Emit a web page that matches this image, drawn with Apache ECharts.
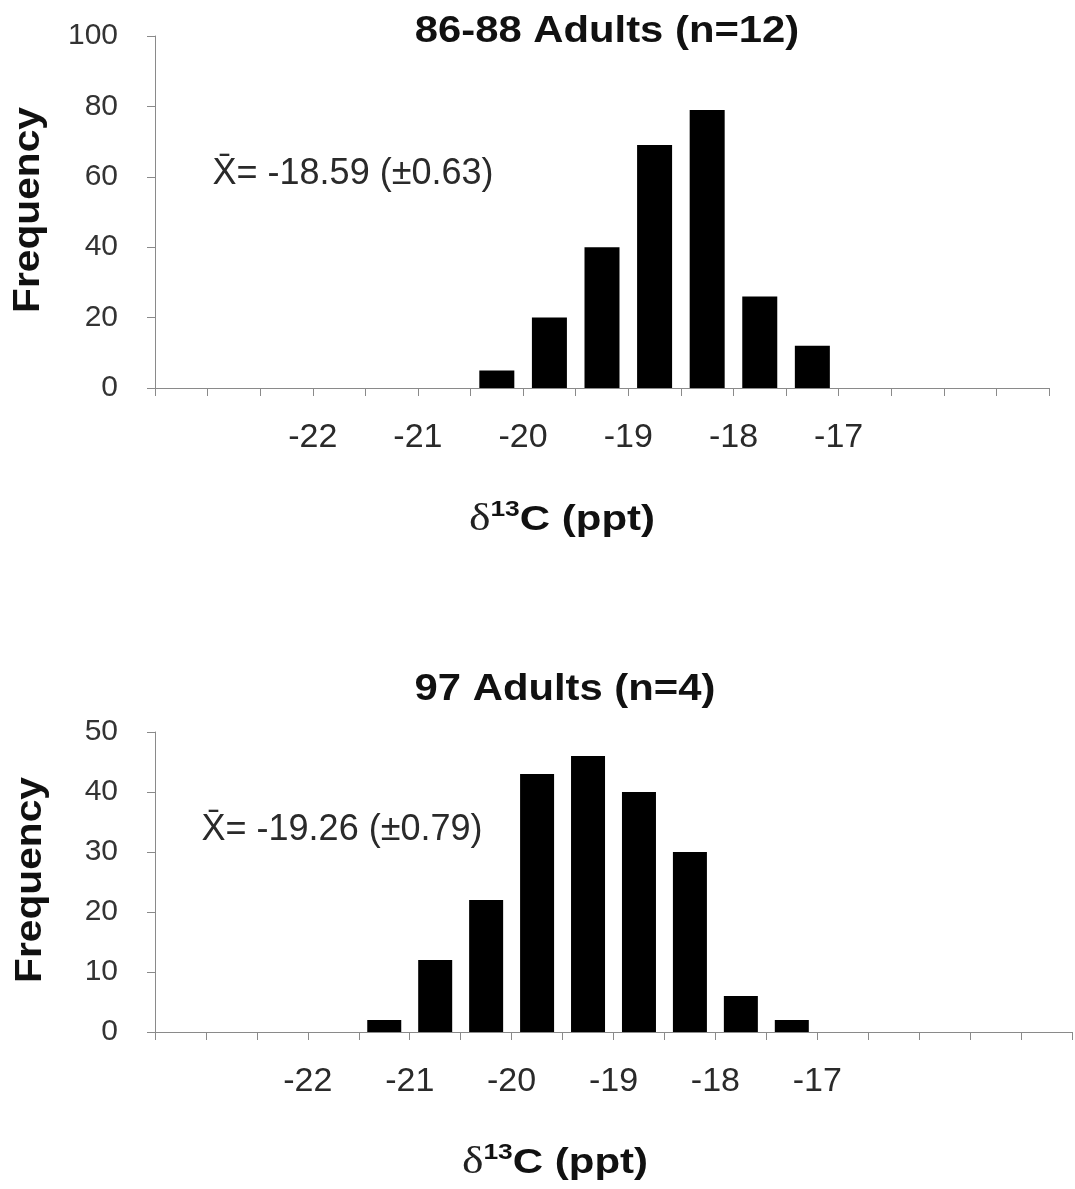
<!DOCTYPE html>
<html>
<head>
<meta charset="utf-8">
<script src="https://cdn.jsdelivr.net/npm/echarts@6/dist/echarts.min.js"></script>
<style>
  html, body { margin: 0; padding: 0; background: #fff; }
  #chart { width: 1075px; height: 1189px; }
</style>
</head>
<body>
<div id="chart"></div>
<script>
// δ13C histograms, 0.5 ppt bins (bin centres on the x axis)
const binCentersTop = [-20.25, -19.75, -19.25, -18.75, -18.25, -17.75, -17.25];
const countsTop = [5, 20, 40, 69, 79, 26, 12];

const binCentersBottom = [-21.25, -20.75, -20.25, -19.75, -19.25, -18.75, -18.25, -17.75, -17.25];
const countsBottom = [2, 12, 22, 43, 46, 40, 30, 6, 2];

const xTickLabels = [-22, -21, -20, -19, -18, -17];

const titleTop = '86-88 Adults (n=12)';
const titleBottom = '97 Adults (n=4)';
const meanTop = 'X\u0304= -18.59 (\u00b10.63)';
const meanBottom = 'X\u0304= -19.26 (\u00b10.79)';
const yName = 'Frequency';

const SANS = '"Liberation Sans", Arial, sans-serif';
const SERIF = '"Liberation Serif", "Times New Roman", serif';
const AXIS_GRAY = '#8a8a8a';

function pairs(xs, ys) { return xs.map((x, i) => [x, ys[i]]); }

function xAxisFor(gridIndex, max) {
  return {
    type: 'value', gridIndex, min: -23.5, max, interval: 0.5,
    axisLine: { lineStyle: { color: AXIS_GRAY, width: 1 } },
    axisTick: { show: true, length: 8, lineStyle: { color: AXIS_GRAY } },
    splitLine: { show: false },
    axisLabel: {
      margin: 33, fontSize: 34, color: '#2a2a2a', fontFamily: SANS,
      formatter: v => xTickLabels.includes(v) ? String(v) : ''
    }
  };
}

function yAxisFor(gridIndex, max, interval) {
  return {
    type: 'value', gridIndex, min: 0, max, interval,
    axisLine: { show: true, lineStyle: { color: AXIS_GRAY, width: 1 } },
    axisTick: { show: true, length: 8, lineStyle: { color: AXIS_GRAY } },
    splitLine: { show: false },
    axisLabel: { margin: 37, fontSize: 30, color: '#333', fontFamily: SANS }
  };
}

const axisTitleRich = {
  d: { fontFamily: SERIF, fontSize: 38, fontWeight: 'normal', fill: '#222', lineHeight: 42 },
  s: { fontFamily: SANS, fontSize: 22, fontWeight: 'bold', fill: '#111', verticalAlign: 'top', lineHeight: 42 },
  c: { fontFamily: SANS, fontSize: 35, fontWeight: 'bold', fill: '#111', lineHeight: 42 }
};

function freeText(x, y, text, style, extra) {
  return Object.assign({
    type: 'text', x, y,
    style: Object.assign({ text, align: 'center', verticalAlign: 'middle', fill: '#111', fontFamily: SANS }, style)
  }, extra || {});
}

const chart = echarts.init(document.getElementById('chart'), null, { renderer: 'canvas' });

chart.setOption({
  animation: false,
  backgroundColor: '#fff',
  grid: [
    { left: 155, top: 36, width: 894, height: 352 },
    { left: 155, top: 732, width: 920, height: 300 }
  ],
  xAxis: [xAxisFor(0, -15), xAxisFor(1, -14.5)],
  yAxis: [yAxisFor(0, 100, 20), yAxisFor(1, 50, 10)],
  series: [
    {
      type: 'bar', xAxisIndex: 0, yAxisIndex: 0, barWidth: 35,
      itemStyle: { color: '#000' },
      data: pairs(binCentersTop, countsTop)
    },
    {
      type: 'bar', xAxisIndex: 1, yAxisIndex: 1, barWidth: 34,
      itemStyle: { color: '#000' },
      data: pairs(binCentersBottom, countsBottom)
    }
  ],
  graphic: [
    freeText(607, 32, titleTop, { fontSize: 37, fontWeight: 'bold' }, { scaleX: 1.13 }),
    freeText(565, 690, titleBottom, { fontSize: 37, fontWeight: 'bold' }, { scaleX: 1.13 }),
    freeText(353, 174, meanTop, { fontSize: 36, fill: '#2a2a2a' }),
    freeText(342, 830, meanBottom, { fontSize: 36, fill: '#2a2a2a' }),
    freeText(562, 520, '{d|\u03b4}{s|13}{c|C (ppt)}', { rich: axisTitleRich }, { scaleX: 1.2 }),
    freeText(555, 1163, '{d|\u03b4}{s|13}{c|C (ppt)}', { rich: axisTitleRich }, { scaleX: 1.2 }),
    freeText(29, 210, yName, { fontSize: 37, fontWeight: 'bold' }, { rotation: Math.PI / 2, scaleX: 1.1 }),
    freeText(31, 880, yName, { fontSize: 37, fontWeight: 'bold' }, { rotation: Math.PI / 2, scaleX: 1.1 })
  ]
});
</script>
</body>
</html>
